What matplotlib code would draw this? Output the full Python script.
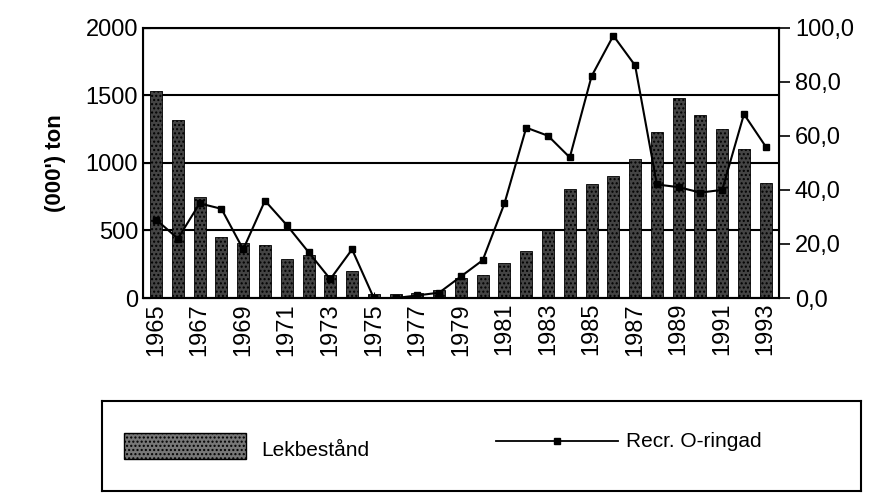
import matplotlib.pyplot as plt
from matplotlib.patches import Rectangle
from matplotlib.lines import Line2D

plt.rcParams['font.family'] = ['Liberation Sans', 'DejaVu Sans']

years = list(range(1965, 1994))
lekbestand = [1530, 1320, 750, 450, 410, 390, 290, 320, 170, 200, 30, 30, 40, 60, 150,
              170, 260, 350, 500, 810, 840, 900, 1030, 1230, 1480, 1350, 1250, 1100, 850]
recr = [29, 22, 35, 33, 18, 36, 27, 17, 7, 18, 0, 0, 1, 2, 8,
        14, 35, 63, 60, 52, 82, 97, 86, 42, 41, 39, 40, 68, 56]
tick_years = years[::2]

fig = plt.figure(figsize=(8.83, 5.01), dpi=100)
ax = fig.add_axes([0.162, 0.405, 0.72, 0.54])
ax.bar(years, lekbestand, width=0.55, color='#444444', edgecolor='black', hatch='....', linewidth=0.6)
ax.set_ylim(0, 2000)
ax.set_xlim(1964.4, 1993.6)
ax.set_yticks([0, 500, 1000, 1500, 2000])
ax.yaxis.grid(True, color='black', linewidth=1.5)
ax.set_axisbelow(True)
ax.set_xticks(tick_years)
ax.set_xticklabels([str(y) for y in tick_years], rotation=90, fontsize=17)
ax.tick_params(axis='y', labelsize=17, direction='in', length=5)
ax.tick_params(axis='x', direction='in', length=4)
ax.set_ylabel("(000') ton", fontsize=16, fontweight='bold', labelpad=14)
for s in ax.spines.values():
    s.set_linewidth(1.5)

ax2 = ax.twinx()
ax2.plot(years, recr, color='black', marker='s', markersize=5, linewidth=1.5)
ax2.set_ylim(0, 100)
ax2.set_yticks([0, 20, 40, 60, 80, 100])
ax2.set_yticklabels(['0,0', '20,0', '40,0', '60,0', '80,0', '100,0'])
ax2.tick_params(axis='y', labelsize=17, direction='out', length=8, width=1.2)

lax = fig.add_axes([0.115, 0.02, 0.86, 0.18])
lax.set_xlim(0, 1)
lax.set_ylim(0, 1)
lax.set_xticks([])
lax.set_yticks([])
for s in lax.spines.values():
    s.set_linewidth(1.5)
lax.add_patch(Rectangle((0.03, 0.36), 0.16, 0.28, facecolor='#777777', edgecolor='black', hatch='....'))
lax.text(0.21, 0.45, 'Lekbestånd', fontsize=15, va='center')
lax.add_line(Line2D([0.52, 0.68], [0.55, 0.55], color='black', linewidth=1.3))
lax.plot([0.6], [0.55], marker='s', color='black', markersize=5)
lax.text(0.69, 0.55, 'Recr. O-ringad', fontsize=15, va='center')

fig.savefig('out.png', dpi=100)
